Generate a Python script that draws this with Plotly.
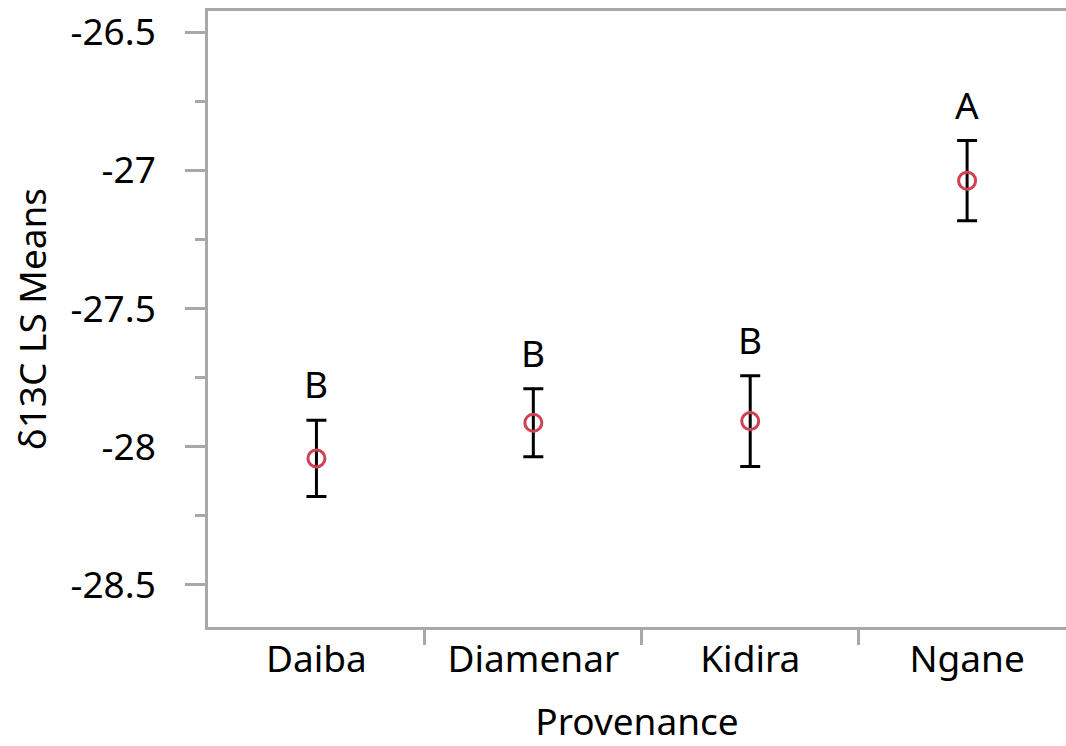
import plotly.graph_objects as go

categories = ["Daiba", "Diamenar", "Kidira", "Ngane"]
means = [-28.042, -27.913, -27.907, -27.037]
errors = [0.138, 0.123, 0.164, 0.145]
letters = ["B", "B", "B", "A"]
y_ticks = [-26.5, -27, -27.5, -28, -28.5]
y_ticktext = ["-26.5", "-27", "-27.5", "-28", "-28.5"]

FONT = "Noto Sans"
FS = 37
AXIS_COLOR = "#a8a8a8"
xpos = list(range(len(categories)))

fig = go.Figure()
fig.add_trace(go.Scatter(
    x=xpos, y=means, mode="markers",
    marker=dict(symbol="circle-open", size=17, color="#d04153", line=dict(width=3, color="#d04153")),
    error_y=dict(type="data", array=errors, visible=True, color="black", thickness=3, width=10),
    showlegend=False, hoverinfo="skip",
))

for xi, m, e, lab in zip(xpos, means, errors, letters):
    fig.add_annotation(x=xi, y=m + e, text=lab, showarrow=False, yanchor="bottom",
                       yshift=9, font=dict(family=FONT, size=FS, color="black"))

fig.update_layout(
    width=1066, height=746,
    margin=dict(l=208, r=0, t=11, b=119),
    paper_bgcolor="white", plot_bgcolor="white",
    font=dict(family=FONT, size=FS, color="black"),
)
fig.update_xaxes(
    range=[-0.5, 3.456], tickmode="array", tickvals=xpos, ticktext=categories,
    ticks="", showgrid=False, zeroline=False,
    showline=True, linecolor=AXIS_COLOR, linewidth=2.5, mirror=True,
    ticklabelstandoff=-2,
    minor=dict(tickmode="array", tickvals=[0.5, 1.5, 2.5], ticks="outside", ticklen=15,
               tickwidth=2.5, tickcolor=AXIS_COLOR, showgrid=False),
    title=dict(text="Provenance", font=dict(family=FONT, size=FS), standoff=29),
    automargin=False,
)
fig.update_yaxes(
    range=[-28.652, -26.423], tickmode="array", tickvals=y_ticks, ticktext=y_ticktext,
    ticks="outside", ticklen=20, tickwidth=2.5, tickcolor=AXIS_COLOR,
    showgrid=False, zeroline=False,
    showline=True, linecolor=AXIS_COLOR, linewidth=2.5, mirror=False,
    ticklabelstandoff=22,
    minor=dict(dtick=0.25, tick0=-26.5, ticks="outside", ticklen=10, tickwidth=2.5,
               tickcolor=AXIS_COLOR, showgrid=False),
    title=dict(text="δ13C LS Means", font=dict(family=FONT, size=FS), standoff=13),
    automargin=True,
)

fig.write_html("out.html", config={"displayModeBar": False},
               post_script="document.body.style.margin='0';")
